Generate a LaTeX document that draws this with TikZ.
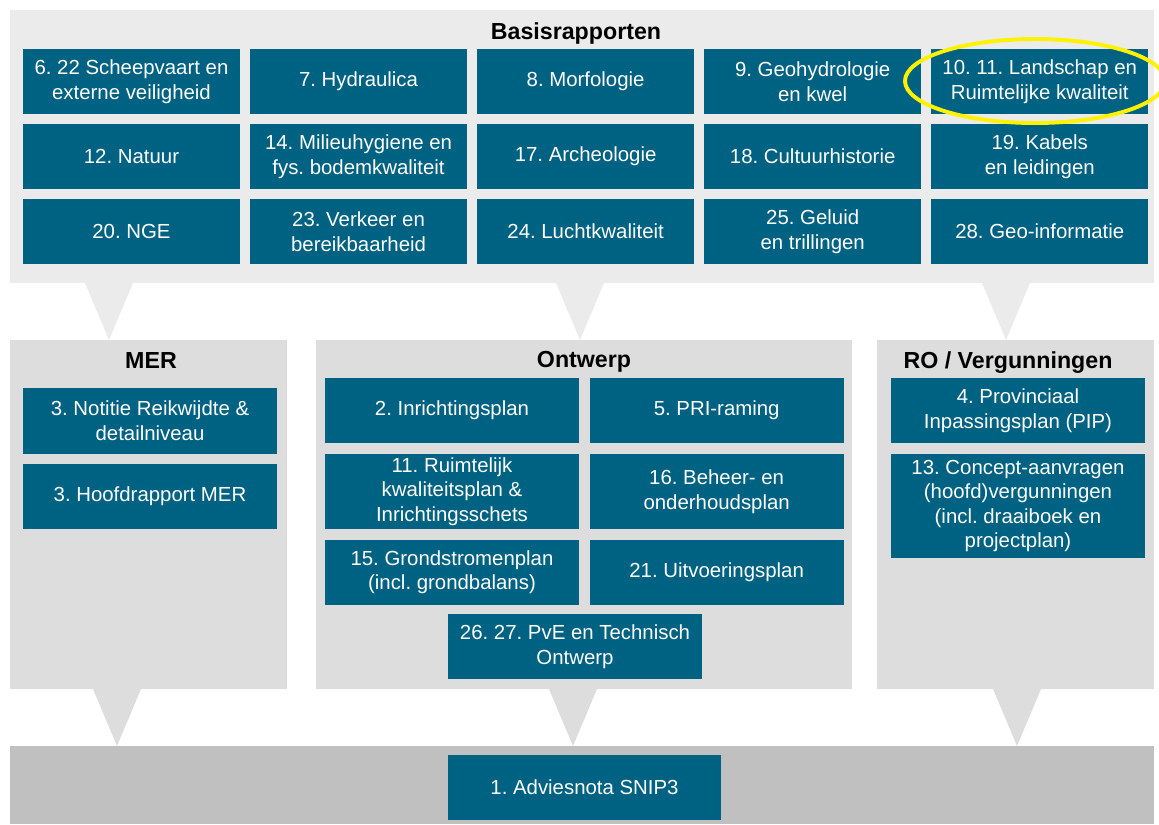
\documentclass[tikz,border=0pt]{standalone}
\usepackage{fontspec}
\setmainfont{Liberation Sans}
\usetikzlibrary{shapes.geometric, arrows}
\frenchspacing
\definecolor{boxblue}{RGB}{0,98,130}
\definecolor{toppanel}{RGB}{235,235,235}
\definecolor{midpanel}{RGB}{221,221,221}
\definecolor{lowpanel}{RGB}{192,192,192}
\tikzstyle{rapport} = [rectangle, minimum width=5.425cm, minimum height=1.625cm, inner sep=0pt, align=center, fill=boxblue, text=white, font=\fontsize{14.5}{17.5}\selectfont]
\tikzstyle{product} = [rapport, minimum width=6.35cm]
\tikzstyle{heading} = [anchor=base, inner sep=0pt, font=\fontsize{16.5}{19}\selectfont\bfseries]
\tikzstyle{funnel} = [fill=toppanel]

\begin{document}
\begin{tikzpicture}[x=0.025cm, y=-0.025cm, node distance=1.875cm]
\useasboundingbox (0,0) rectangle (1159,824);
% Panels and funnels
\fill[toppanel] (10,10) rectangle (1154,283);
\fill[midpanel] (10,340) rectangle (287,689);
\fill[midpanel] (316,340) rectangle (852,689);
\fill[midpanel] (877,340) rectangle (1154,689);
\fill[lowpanel] (10,746) rectangle (1154,824);
\fill[funnel] (85,283) -- (133,283) -- (109,340) -- cycle;
\fill[funnel] (556,283) -- (604,283) -- (580,340) -- cycle;
\fill[funnel] (982,283) -- (1030,283) -- (1006,340) -- cycle;
\fill[funnel, fill=midpanel] (93,689) -- (141,689) -- (117,746) -- cycle;
\fill[funnel, fill=midpanel] (549,689) -- (597,689) -- (573,746) -- cycle;
\fill[funnel, fill=midpanel] (993,689) -- (1041,689) -- (1017,746) -- cycle;

% Basisrapporten
\node (basis) [heading] at (576,39) {Basisrapporten};
\node (scheep) [rapport] at (131.5,81.5) {6. 22 Scheepvaart en\\externe veiligheid};
\node (hydraulica) [rapport, right of=scheep, xshift=3.8cm] {7. Hydraulica};
\node (morfo) [rapport, right of=hydraulica, xshift=3.8cm] {8. Morfologie};
\node (geohydro) [rapport, right of=morfo, xshift=3.8cm] {9. Geohydrologie\\en kwel};
\node (landschap) [rapport, right of=geohydro, xshift=3.8cm] {10. 11. Landschap en\\Ruimtelijke kwaliteit};
\node (natuur) [rapport, below of=scheep] {12. Natuur};
\node (milieu) [rapport, below of=hydraulica] {14. Milieuhygiene en\\fys. bodemkwaliteit};
\node (archeo) [rapport, below of=morfo] {17. Archeologie};
\node (cultuur) [rapport, below of=geohydro] {18. Cultuurhistorie};
\node (kabels) [rapport, below of=landschap] {19. Kabels\\en leidingen};
\node (nge) [rapport, below of=natuur] {20. NGE};
\node (verkeer) [rapport, below of=milieu] {23. Verkeer en\\bereikbaarheid};
\node (lucht) [rapport, below of=archeo] {24. Luchtkwaliteit};
\node (geluid) [rapport, below of=cultuur] {25. Geluid\\en trillingen};
\node (geoinfo) [rapport, below of=kabels] {28. Geo-informatie};
% highlighted report
\draw[yellow, line width=2.8pt] (1035,81) ellipse [x radius=130, y radius=42];

% MER
\node (mer) [heading] at (151,368) {MER};
\node (notitie) [product] at (150,421) {3. Notitie Reikwijdte \&\\detailniveau};
\node (hoofdrapport) [product, below of=notitie] {3. Hoofdrapport MER};

% Ontwerp
\node (ontwerp) [heading] at (584,367) {Ontwerp};
\node (inricht) [product] at (452,410.5) {2. Inrichtingsplan};
\node (pri) [product, right of=inricht, xshift=4.74cm] {5. PRI-raming};
\node (ruimtelijk) [product, below of=inricht, yshift=-0.15cm, minimum height=1.875cm] {11. Ruimtelijk\\kwaliteitsplan \&\\Inrichtingsschets};
\node (beheer) [product, below of=pri, yshift=-0.15cm, minimum height=1.875cm] {16. Beheer- en\\onderhoudsplan};
\node (grond) [product, below of=ruimtelijk, yshift=-0.14cm] {15. Grondstromenplan\\(incl. grondbalans)};
\node (uitvoering) [product, below of=beheer, yshift=-0.14cm] {21. Uitvoeringsplan};
\node (pve) [product] at (575,646.5) {26. 27. PvE en Technisch\\Ontwerp};

% RO / Vergunningen
\node (ro) [heading] at (1008,368) {RO / Vergunningen};
\node (pip) [product] at (1018,410.5) {4. Provinciaal\\Inpassingsplan (PIP)};
\node (concept) [product, minimum height=2.6cm] at (1018,506) {13. Concept-aanvragen\\(hoofd)vergunningen\\(incl. draaiboek en\\projectplan)};

% End
\node (advies) [product, minimum width=6.825cm] at (584.5,787.5) {1. Adviesnota SNIP3};
\end{tikzpicture}
\end{document}
